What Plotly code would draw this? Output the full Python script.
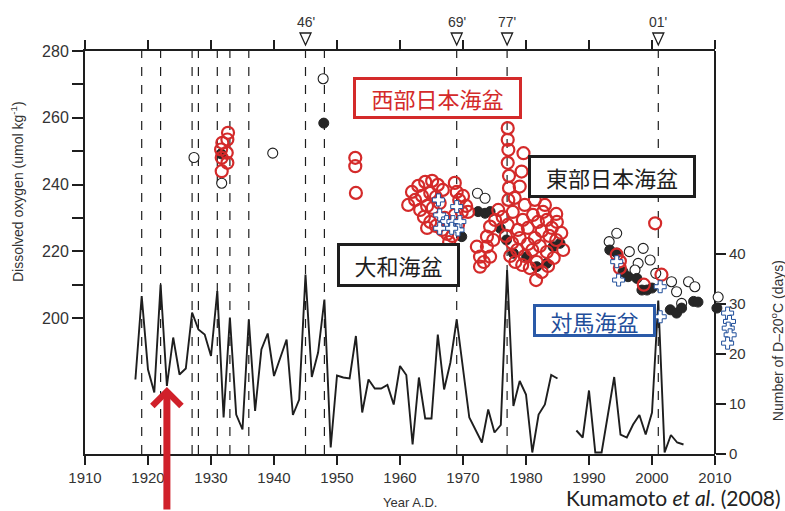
import plotly.graph_objects as go

# ---------------- data ----------------
# Number of D-20C days (right axis), annual
line_years = [1918, 1919, 1920, 1921, 1922, 1923, 1924, 1925, 1926, 1927, 1928, 1929, 1930,
              1931, 1932, 1933, 1934, 1935, 1936, 1937, 1938, 1939, 1940, 1942, 1943, 1944,
              1945, 1946, 1947, 1948, 1949, 1950, 1951, 1952, 1953, 1954, 1955, 1956, 1957,
              1958, 1959, 1960, 1961, 1962, 1963, 1964, 1965, 1966, 1967, 1968, 1969, 1971,
              1973, 1974, 1975, 1976, 1977, 1978, 1979, 1980, 1981, 1982, 1983, 1984, 1985,
              1986, 1987, 1988, 1989, 1990, 1991, 1992, 1994, 1995, 1996, 1997, 1998, 1999,
              2000, 2001, 2002, 2003, 2004, 2005]
line_days = [14.9, 31.6, 16.9, 12.3, 33.9, 13.6, 23.3, 15.9, 17.1, 28.3, 24.9, 23.9, 19.6,
             32.6, 7.3, 27.3, 7.9, 4.9, 26.9, 8.6, 20.9, 24.1, 15.6, 22.9, 7.8, 10.9,
             35.9, 15.4, 20.3, 30.9, 1.3, 15.7, 15.3, 15.1, 23.6, 8.3, 14.9, 13.1, 13.1,
             13.8, 9.9, 17.6, 15.8, 1.9, 15.3, 7.1, 7.1, 23.9, 12.9, 18.3, 26.9, 7.3,
             2.3, 8.9, 4.3, 5.8, 36.8, 9.6, 14.6, 11.9, 0.3, 7.9, 9.9, 15.8, 15.1,
             None, None, 4.7, 3.3, 12.7, 0.3, 0.3, 15.4, 3.9, 3.3, 5.9, 7.8, 3.9,
             8.3, 30.7, 0.3, 3.8, 2.3, 1.9]

# event years (dashed lines) and labelled events
event_years = [1919, 1922, 1927, 1928, 1931, 1933, 1936, 1945, 1948, 1969, 1977, 2001]
mark_years = [1945, 1969, 1977, 2001]
mark_labels = ["46'", "69'", "77'", "01'"]

# Dissolved oxygen (left axis)
# 西部日本海盆 (red open circles)
red_year = [1931.7, 1931.7, 1931.6, 1931.8, 1932.6, 1932.5, 1932.6, 1932.7,
            1952.9, 1952.9, 1953.0,
            1961.3, 1961.9, 1962.9, 1964.0, 1965.1, 1966.0, 1966.8, 1962.4, 1963.5, 1964.8,
            1965.7, 1963.2, 1964.3, 1965.2, 1966.3, 1963.8, 1964.8, 1965.7, 1966.7, 1967.5,
            1967.8, 1968.3, 1968.7, 1969.0, 1969.4, 1970.0, 1970.5, 1970.8, 1969.8, 1968.7,
            1967.1, 1967.9, 1969.2, 1964.3,
            1972.2, 1972.7, 1972.7, 1973.8, 1973.8, 1974.3, 1974.3, 1975.6, 1975.1, 1973.3, 1974.8,
            1977.1, 1977.1, 1977.2, 1977.1, 1977.3, 1977.3, 1977.2,
            1979.6, 1979.3, 1979.0, 1978.2,
            1976.3, 1977.1, 1977.9, 1978.7, 1979.5, 1980.3, 1981.1, 1981.9, 1982.7, 1983.3,
            1984.1, 1984.9, 1985.6, 1985.9, 1984.8, 1983.7, 1982.5, 1981.4, 1980.3, 1979.0,
            1977.8, 1976.8, 1977.5, 1978.6, 1979.8, 1981.0, 1982.2, 1983.3, 1984.4, 1981.7,
            1980.6, 1981.6, 1982.5, 1983.5, 1979.4, 1978.3, 1983.0, 1979.8, 1981.4, 1984.8,
            1994.4, 1994.9, 1994.9, 1998.7, 2001.5, 2000.5]
red_o2 = [244.0, 248.0, 250.5, 252.5, 246.5, 249.5, 253.5, 255.5,
          248.0, 245.5, 237.5,
          233.9, 237.8, 239.6, 240.8, 241.1, 239.9, 238.4, 235.4, 236.6, 237.5,
          236.3, 232.4, 233.6, 233.0, 234.5, 230.3, 228.8, 227.6, 226.4, 225.2,
          222.8, 224.6, 240.5, 237.8, 235.4, 236.6, 233.6, 231.8, 231.8, 230.9,
          230.0, 228.2, 227.9, 227.0,
          221.4, 218.4, 215.4, 224.4, 221.4, 218.4, 227.4, 232.4, 229.4, 216.8, 223.4,
          256.9, 253.4, 250.4, 246.5, 242.6, 239.0, 235.4,
          249.4, 243.9, 239.4, 236.0,
          230.3, 227.9, 231.8, 226.4, 229.4, 227.0, 230.9, 228.8, 231.8, 229.4,
          227.0, 228.8, 225.5, 220.4, 223.4, 224.6, 226.1, 224.0, 222.2, 224.0,
          222.5, 224.6, 218.6, 220.4, 218.6, 220.4, 221.6, 219.8, 218.0, 216.8,
          215.0, 211.4, 213.8, 215.6, 215.9, 216.8, 233.9, 233.9, 235.4, 231.2,
          219.0, 217.0, 215.0, 210.0, 213.0, 228.4]

# 東部日本海盆 (black filled circles)
blk_year = [1931.6, 1947.9, 1969.8, 1972.4, 1973.5, 1974.3, 1975.9, 1976.9,
            1985.4, 1983.3, 1980.1, 1984.3, 1978.0, 1981.7,
            1993.3, 1994.4, 1995.4, 1996.2, 1997.6, 1998.4, 1999.2, 2000.0, 2002.9,
            2003.9, 2004.7, 2006.6, 2007.3, 2010.3]
blk_o2 = [249.2, 258.4, 224.4, 231.9, 231.4, 231.9, 226.9, 223.4,
          222.4, 216.4, 218.4, 221.4, 219.4, 215.4,
          220.4, 219.5, 213.9, 212.4, 211.9, 208.4, 208.4, 209.0, 202.5,
          201.5, 203.0, 205.0, 204.8, 203.0]

# 大和海盆 (black open circles)
opn_year = [1927.3, 1931.7, 1939.8, 1947.8, 1972.3, 1973.5,
            1993.2, 1994.4, 1996.4, 1998.6, 1999.7, 1997.8, 1997.3, 2000.6, 2003.1,
            2003.9, 2005.8, 2006.8, 2004.7, 2010.5]
opn_o2 = [248.1, 240.4, 249.4, 271.7, 237.4, 235.9,
          222.9, 225.4, 219.9, 220.9, 217.4, 216.4, 214.4, 213.4, 210.9,
          207.9, 210.9, 209.4, 204.4, 206.3]

# 対馬海盆 (blue crosses)
blu_year = [1966.1, 1966.3, 1967.4, 1969.0, 1968.4, 1969.5, 1966.3, 1969.2, 1968.2,
            1994.4, 1994.7, 2001.3, 2001.3,
            2012.0, 2012.3, 2012.1, 2012.4, 2012.0]
blu_o2 = [235.4, 230.9, 228.9, 233.4, 228.9, 228.9, 226.9, 226.4, 226.9,
          216.9, 211.4, 209.4, 200.4,
          201.5, 199.0, 197.0, 195.0, 192.5]

x_ticks = list(range(1910, 2011, 10))
o2_ticks = list(range(200, 281, 10))
o2_text = [str(v) if v % 20 == 0 else "" for v in o2_ticks]
day_ticks = [0, 10, 20, 30, 40]

# ---------------- styles / layout geometry ----------------
RED = "#d42a2a"
BLUE = "#1f4e9a"
INK = "#1e1e1e"
TXT = "#333333"
FONT = "Liberation Sans, Arial, sans-serif"
JP = "Noto Sans CJK JP"
CLEAR = "rgba(0,0,0,0)"

X_RANGE = [1910, 2010]
O2_RANGE = [159.3, 280]
DAY_RANGE = [0, 80.6]
PAPER_W = 660                 # px of the paper area (margins l=85, r=40)
AXIS_W = 630                  # px of the framed axes
PX_PER_YEAR = AXIS_W / (X_RANGE[1] - X_RANGE[0])
X3_RANGE = [X_RANGE[0], X_RANGE[0] + PAPER_W / PX_PER_YEAR]
XDOM = AXIS_W / PAPER_W

fig = go.Figure()

# D-20 line on main axes
fig.add_trace(go.Scatter(x=line_years, y=line_days, mode="lines", xaxis="x", yaxis="y2",
                         connectgaps=False, line=dict(color=INK, width=1.9),
                         showlegend=False, hoverinfo="skip"))

# oxygen scatter on a wider (invisible) overlay so points past 2010 stay visible
common = dict(xaxis="x3", yaxis="y3", mode="markers", cliponaxis=False,
              showlegend=False, hoverinfo="skip")
fig.add_trace(go.Scatter(x=opn_year, y=opn_o2,
                         marker=dict(symbol="circle", size=10, color="white",
                                     line=dict(color=INK, width=1.1)), **common))
fig.add_trace(go.Scatter(x=blk_year, y=blk_o2,
                         marker=dict(symbol="circle", size=10, color="#262626",
                                     line=dict(color="#262626", width=1)), **common))
fig.add_trace(go.Scatter(x=red_year, y=red_o2,
                         marker=dict(symbol="circle-open", size=12, color=RED,
                                     line=dict(color=RED, width=2.2)), **common))
fig.add_trace(go.Scatter(x=blu_year, y=blu_o2,
                         marker=dict(symbol="cross", size=10, color="white",
                                     line=dict(color=BLUE, width=1)), **common))

# dashed event lines
for yr in event_years:
    fig.add_shape(type="line", xref="x", yref="paper", x0=yr, x1=yr, y0=0, y1=1,
                  line=dict(color=INK, width=1.2, dash="dash"), layer="below")

# open down-triangles above the frame
TRI_HALF = 5.5 / PX_PER_YEAR
for yr in mark_years:
    fig.add_shape(type="path", xref="x", yref="paper",
                  path=f"M{yr - TRI_HALF},1.0447 L{yr + TRI_HALF},1.0447 L{yr},1.0149 Z",
                  line=dict(color=INK, width=1.3), fillcolor="white")

ann = []
for yr, lab in zip(mark_years, mark_labels):
    ann.append(dict(x=yr, y=1.073, xref="x", yref="paper", text=lab, showarrow=False,
                    xanchor="center", yanchor="middle",
                    font=dict(family=FONT, size=14, color=TXT)))


def box(text, x, y, w, h, color, border):
    return dict(x=x, y=y, xref="x", yref="y", text=text, showarrow=False,
                font=dict(family=JP, size=22, color=color), bgcolor="white",
                bordercolor=border, borderwidth=3, borderpad=0, width=w, height=h,
                xanchor="center", yanchor="middle", align="center", valign="middle")


ann.append(box("西部日本海盆", 1966.0, 265.8, 163, 36, RED, RED))
ann.append(box("東部日本海盆", 1993.65, 242.4, 162, 37, INK, INK))
ann.append(box("大和海盆", 1959.7, 215.9, 117, 38, INK, INK))
ann.append(box("対馬海盆", 1990.9, 199.3, 117, 27, BLUE, "#2a5aa8"))

ann.append(dict(x=(17 - 85) / PAPER_W, y=0.650, xref="paper", yref="paper", textangle=-90,
                xanchor="center", yanchor="middle",
                text="Dissolved oxygen (umol kg<sup>-1</sup>)", showarrow=False,
                font=dict(family=FONT, size=14, color=TXT)))
ann.append(dict(x=(777 - 85) / PAPER_W, y=0.280, xref="paper", yref="paper", textangle=-90,
                xanchor="center", yanchor="middle",
                text="Number of D–20<sup>o</sup>C (days)", showarrow=False,
                font=dict(family=FONT, size=14, color=TXT)))
ann.append(dict(x=(410 - 85) / PAPER_W, y=-0.121, xref="paper", yref="paper",
                xanchor="center", yanchor="middle",
                text="Year A.D.", showarrow=False,
                font=dict(family=FONT, size=13, color=TXT)))
ann.append(dict(x=(783 - 85) / PAPER_W, y=-0.1067, xref="paper", yref="paper",
                xanchor="right", yanchor="middle",
                text="Kumamoto <i>et al</i>. (2008)", showarrow=False,
                font=dict(family="Lato, Open Sans, sans-serif", size=21, color="#222")))
# red arrow
ann.append(dict(x=1923.0, y=13.4, xref="x", yref="y2", text="", showarrow=True,
                ax=0, ay=135, axref="pixel", ayref="pixel", arrowhead=4, arrowsize=0.8,
                arrowwidth=7, arrowcolor="#d0202a", standoff=0))

fig.update_layout(
    width=785, height=511,
    margin=dict(l=85, r=785 - 85 - PAPER_W, t=51, b=57),
    paper_bgcolor="white", plot_bgcolor=CLEAR,
    showlegend=False,
    annotations=ann,
    xaxis=dict(domain=[0, XDOM], range=X_RANGE, tickvals=x_ticks, ticks="outside",
               ticklen=9, tickwidth=1.5, tickcolor=INK, showline=True, linewidth=2,
               linecolor=INK, mirror="ticks", showgrid=False, zeroline=False, anchor="y",
               tickfont=dict(family=FONT, size=15, color=TXT)),
    yaxis=dict(range=O2_RANGE, tickvals=o2_ticks, ticktext=o2_text, ticks="outside",
               ticklen=11, tickwidth=1.5, tickcolor=INK, showline=True, linewidth=2,
               linecolor=INK, showgrid=False, zeroline=False, anchor="x",
               tickfont=dict(family=FONT, size=16, color=TXT)),
    yaxis2=dict(range=DAY_RANGE, overlaying="y", side="right", anchor="free",
                position=XDOM,
                tickvals=day_ticks, ticks="outside", ticklen=10, tickwidth=1.5,
                tickcolor=INK, showline=True, linewidth=2, linecolor=INK,
                showgrid=False, zeroline=False,
                tickfont=dict(family=FONT, size=15, color=TXT)),
    xaxis3=dict(domain=[0, 1], range=X3_RANGE, anchor="y3", visible=False),
    yaxis3=dict(domain=[0, 1], range=O2_RANGE, anchor="x3", visible=False),
)

fig.write_html("out.html")
